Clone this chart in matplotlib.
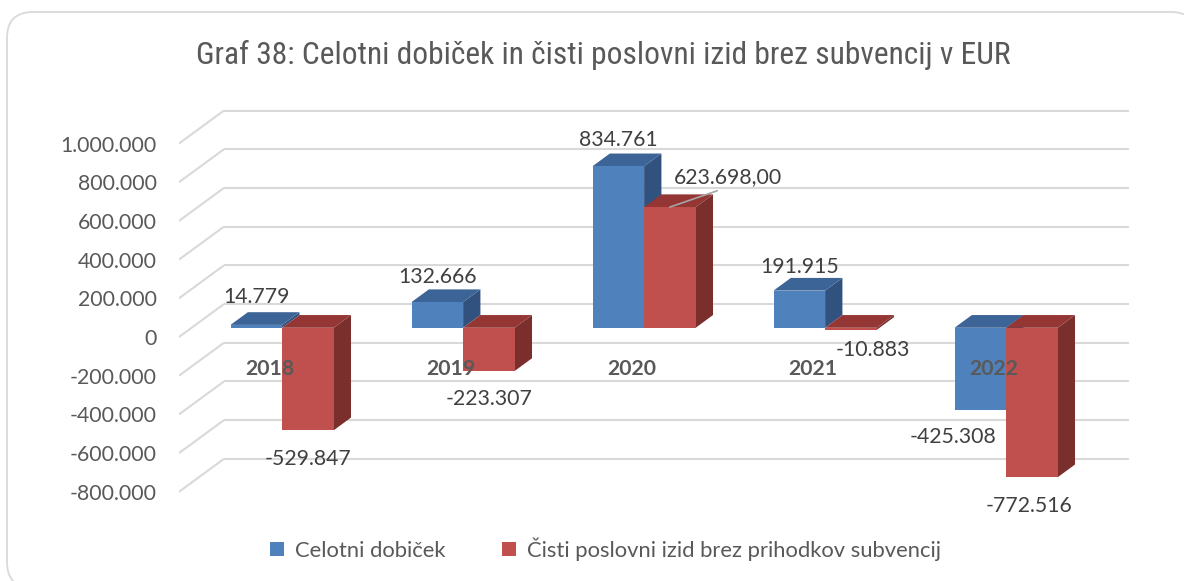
import matplotlib
matplotlib.use("Agg")
import matplotlib.pyplot as plt
from matplotlib.patches import Polygon, FancyBboxPatch, Patch
from matplotlib import font_manager

# ---- data -------------------------------------------------------------
years = ["2018", "2019", "2020", "2021", "2022"]
celotni_dobicek = [14779, 132666, 834761, 191915, -425308]
cisti_izid = [-529847, -223307, 623698.00, -10883, -772516]
cisti_decimals = [0, 0, 2, 0, 0]
series_names = ["Celotni dobiček", "Čisti poslovni izid brez prihodkov subvencij"]
y_ticks = [-800000, -600000, -400000, -200000, 0, 200000, 400000, 600000, 800000, 1000000]
title = "Graf 38: Celotni dobiček in čisti poslovni izid brez subvencij v EUR"

# ---- style ------------------------------------------------------------
W, H, DPI = 1184, 581, 100
BLUE = ("#4F81BD", "#3D6496", "#31527F")   # front, top, side
RED = ("#C0504D", "#943634", "#7A2F2D")
GRID = "#D9D9D9"
TXT = "#595959"
LBL = "#404040"

names = {f.name for f in font_manager.fontManager.ttflist}
BODY = "Lato" if "Lato" in names else "DejaVu Sans"
TITLE_FONT, TITLE_SIZE = "Roboto", 20.5
for fam in ["Liberation Sans Narrow", "Roboto Condensed", "Open Sans Condensed"]:
    if fam in names:
        TITLE_FONT, TITLE_SIZE = fam, 22.7
        break


def fmt(v, decimals=0):
    s = f"{abs(v):,.{decimals}f}"
    s = s.replace(",", "\u0001").replace(".", ",").replace("\u0001", ".")
    return ("-" if v < 0 else "") + s


# ---- oblique 3D geometry (pixels) --------------------------------------
PX_LEFT, SLOT = 179, 181          # front-left of plot, width of one category
DEPTH_PX = (45, 33)               # shift of the back wall
Y_ZERO = 337                      # pixel row of value 0 at the front
K = 38.7 / 200000                 # pixels per EUR
ymin, ymax = -880000, 1260000
n = len(years)
Dx = DEPTH_PX[0] / SLOT
Dy = DEPTH_PX[1] / K
D0, D1 = 0.28, 0.665              # depth span of the columns
BAR_W = 0.285

fig = plt.figure(figsize=(W / DPI, H / DPI), dpi=DPI)
fig.patch.set_facecolor("white")

bg = fig.add_axes([0, 0, 1, 1], zorder=-5)
bg.set_xlim(0, W)
bg.set_ylim(H, 0)
bg.axis("off")
bg.add_patch(FancyBboxPatch((7, 12), 1190, 576,
                            boxstyle="round,pad=0,rounding_size=26",
                            fc="white", ec=GRID, lw=1.3))

ax_right = PX_LEFT + (n + Dx) * SLOT
ax_top = Y_ZERO - ymax * K
ax_bot = Y_ZERO - ymin * K
ax = fig.add_axes([PX_LEFT / W, 1 - ax_bot / H,
                   (ax_right - PX_LEFT) / W, (ax_bot - ax_top) / H])
ax.set_xlim(0, n + Dx)
ax.set_ylim(ymin, ymax)
ax.patch.set_alpha(0)
for s in ax.spines.values():
    s.set_visible(False)
ax.set_xticks([])
ax.set_yticks(y_ticks)
ax.set_yticklabels([fmt(v) for v in y_ticks], fontfamily=BODY, fontsize=15.3, color=TXT)
ax.tick_params(axis="y", length=0, pad=16)

# back wall and left wall grid
for v in y_ticks:
    ax.plot([Dx, n + Dx], [v + Dy, v + Dy], color=GRID, lw=1.5, zorder=1,
            solid_capstyle="butt")
    ax.plot([0, Dx], [v, v + Dy], color=GRID, lw=1.5, zorder=1,
            solid_capstyle="butt")

# columns
centers = [i + 0.5 + D0 * Dx for i in range(n)]
base = D0 * Dy
ddx, ddy = (D1 - D0) * Dx, (D1 - D0) * Dy
z = 3
series = [(celotni_dobicek, BLUE, -0.5), (cisti_izid, RED, 0.5)]
for i in range(n):
    for vals, cols, side in series:
        v = vals[i]
        xc = centers[i] + side * BAR_W
        x0, x1 = xc - BAR_W / 2, xc + BAR_W / 2
        lo, hi = min(v, 0) + base, max(v, 0) + base
        ax.add_patch(Polygon([(x1, lo), (x1 + ddx, lo + ddy), (x1 + ddx, hi + ddy), (x1, hi)],
                             closed=True, fc=cols[2], ec="none", zorder=z))
        ax.add_patch(Polygon([(x0, hi), (x1, hi), (x1 + ddx, hi + ddy), (x0 + ddx, hi + ddy)],
                             closed=True, fc=cols[1], ec="none", zorder=z + 1))
        ax.bar([xc], [v], width=BAR_W, bottom=base, color=cols[0], lw=0, zorder=z + 2)
        z += 3

# value labels (offsets in pixels from the column end)
blue_off = [(0, 28), (0, 25), (0, 26), (0, 24), (-27, -27)]
red_off = [(0, -29), (0, -28), (58, 30), (22, -20), (-3, -29)]
for i in range(n):
    for vals, side, offs, decs in [(celotni_dobicek, -0.5, blue_off, [0] * n),
                                   (cisti_izid, 0.5, red_off, cisti_decimals)]:
        v = vals[i]
        xc = centers[i] + side * BAR_W
        kw = {}
        if offs[i][0] > 40:
            kw["arrowprops"] = dict(arrowstyle="-", color="#A6A6A6", lw=1.2,
                                    shrinkA=2, shrinkB=0, relpos=(0.5, 0.0))
        ax.annotate(fmt(v, decs[i]), (xc, v + base), xytext=offs[i],
                    textcoords="offset pixels", ha="center", va="center",
                    fontfamily=BODY, fontsize=15.3, color=LBL, zorder=60, **kw)

# category labels
for i, yr in enumerate(years):
    ax.annotate(yr, (i + 0.5, 0), xytext=(0, -32), textcoords="offset pixels",
                ha="center", va="center", fontfamily=BODY, fontweight="bold",
                fontsize=15.3, color=TXT, zorder=70)

fig.text(603.5 / W, 1 - 55 / H, title, ha="center", va="center",
         fontfamily=TITLE_FONT, fontsize=TITLE_SIZE, color=TXT)

handles = [Patch(facecolor=BLUE[0], edgecolor="none"), Patch(facecolor=RED[0], edgecolor="none")]
fig.legend(handles, series_names, loc="center", bbox_to_anchor=(605.5 / W, 1 - 549 / H),
           ncol=2, frameon=False, handlelength=0.64, handleheight=0.64,
           handletextpad=0.5, columnspacing=2.6,
           prop={"family": BODY, "size": 15.8}, labelcolor=TXT)

fig.savefig("out.png", dpi=DPI, facecolor="white")
